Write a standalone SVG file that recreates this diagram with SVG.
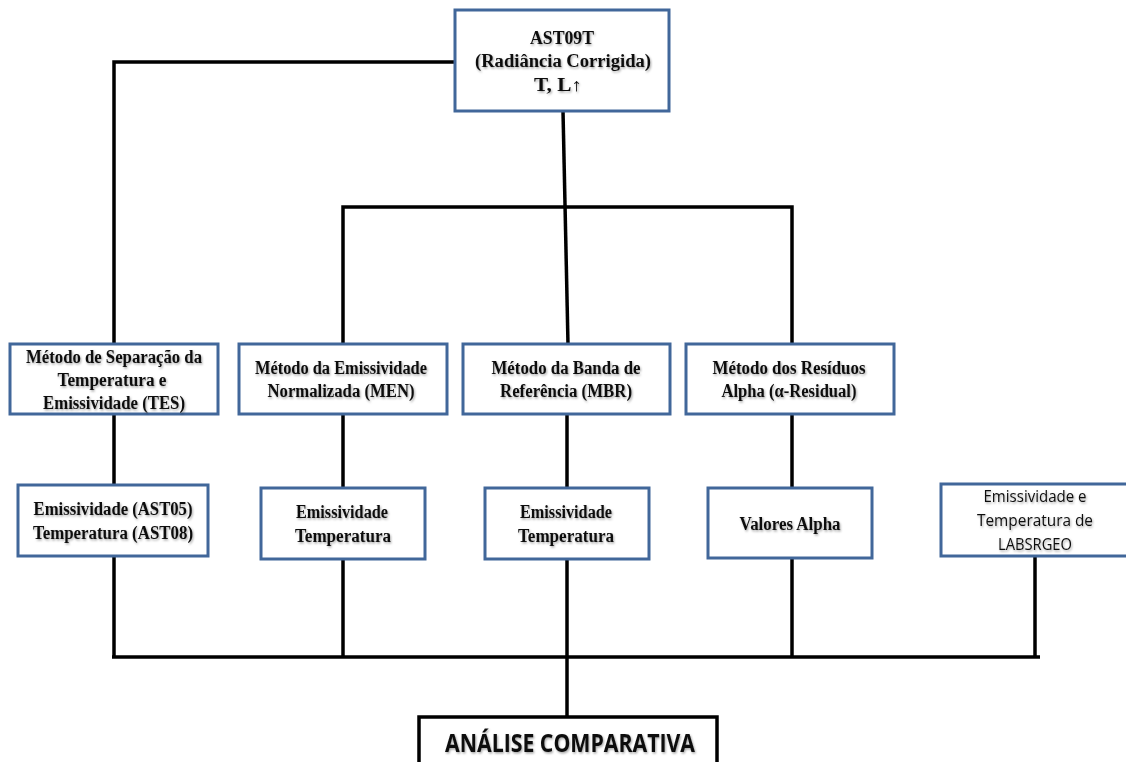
<svg xmlns="http://www.w3.org/2000/svg" width="1126" height="762" viewBox="0 0 1126 762">
<defs>
<filter id="sh" x="-5%" y="-20%" width="110%" height="140%">
<feDropShadow dx="1" dy="1.5" stdDeviation="1" flood-color="#000" flood-opacity="0.35"/>
</filter>
</defs>
<style>
.box{fill:#fff;stroke:#41679a;stroke-width:3}
.bbox{fill:#fff;stroke:#000;stroke-width:3.5}
.ln{stroke:#000;stroke-width:3.5;fill:none}
.t{font-family:"Liberation Serif","Times New Roman",serif;font-weight:bold;font-size:18px;fill:#111;text-anchor:middle;filter:url(#sh)}
.s{font-family:"Open Sans","Liberation Sans",sans-serif;font-size:17px;fill:#111;text-anchor:middle;filter:url(#sh)}
.b{font-family:"Open Sans","Liberation Sans",sans-serif;font-weight:bold;font-size:25px;fill:#111;text-anchor:middle;filter:url(#sh)}
</style>
<g id="connectors">
<polyline class="ln" points="455,62 114,62 114,344"/>
<line class="ln" x1="563" y1="111" x2="568" y2="344"/>
<polyline class="ln" points="343,344 343,207 792,207 792,344"/>
<line class="ln" x1="114" y1="414" x2="114" y2="485"/>
<line class="ln" x1="343" y1="414" x2="343" y2="488"/>
<line class="ln" x1="567" y1="414" x2="567" y2="488"/>
<line class="ln" x1="792" y1="414" x2="792" y2="488"/>
<line class="ln" x1="114" y1="556" x2="114" y2="657"/>
<line class="ln" x1="343" y1="559" x2="343" y2="657"/>
<line class="ln" x1="567" y1="559" x2="567" y2="657"/>
<line class="ln" x1="792" y1="558" x2="792" y2="657"/>
<line class="ln" x1="1035" y1="556" x2="1035" y2="657"/>
<line class="ln" x1="112" y1="657" x2="1040" y2="657"/>
<line class="ln" x1="567" y1="657" x2="567" y2="717"/>
</g>
<g id="top">
<rect class="box" x="455" y="10" width="214" height="101"/>
<text class="t" x="562" y="44" textLength="64" lengthAdjust="spacingAndGlyphs">AST09T</text>
<text class="t" x="563" y="67" textLength="176" lengthAdjust="spacingAndGlyphs">(Radiância Corrigida)</text>
<text class="t" x="558" y="91" textLength="48" lengthAdjust="spacingAndGlyphs">T, L↑</text>
</g>
<g id="tes">
<rect class="box" x="10" y="344" width="208" height="70"/>
<text class="t" x="114" y="363" textLength="176" lengthAdjust="spacingAndGlyphs">Método de Separação da</text>
<text class="t" x="112" y="386" textLength="109" lengthAdjust="spacingAndGlyphs">Temperatura  e</text>
<text class="t" x="114" y="409" textLength="142" lengthAdjust="spacingAndGlyphs">Emissividade  (TES)</text>
</g>
<g id="men">
<rect class="box" x="239" y="344" width="208" height="70"/>
<text class="t" x="341" y="374" textLength="172" lengthAdjust="spacingAndGlyphs">Método da Emissividade</text>
<text class="t" x="341" y="397" textLength="147" lengthAdjust="spacingAndGlyphs">Normalizada  (MEN)</text>
</g>
<g id="mbr">
<rect class="box" x="463" y="344" width="207" height="70"/>
<text class="t" x="566" y="374" textLength="149" lengthAdjust="spacingAndGlyphs">Método da Banda de</text>
<text class="t" x="566" y="397" textLength="132" lengthAdjust="spacingAndGlyphs">Referência (MBR)</text>
</g>
<g id="alpha">
<rect class="box" x="686" y="344" width="208" height="70"/>
<text class="t" x="789" y="374" textLength="153" lengthAdjust="spacingAndGlyphs">Método dos Resíduos</text>
<text class="t" x="789" y="397" textLength="135" lengthAdjust="spacingAndGlyphs">Alpha  (α-Residual)</text>
</g>
<g id="tes-out">
<rect class="box" x="18" y="485" width="190" height="71"/>
<text class="t" x="113" y="515" textLength="159" lengthAdjust="spacingAndGlyphs">Emissividade  (AST05)</text>
<text class="t" x="113" y="539" textLength="160" lengthAdjust="spacingAndGlyphs">Temperatura (AST08)</text>
</g>
<g id="men-out">
<rect class="box" x="261" y="488" width="164" height="71"/>
<text class="t" x="342" y="518" textLength="92" lengthAdjust="spacingAndGlyphs">Emissividade</text>
<text class="t" x="343" y="542" textLength="96" lengthAdjust="spacingAndGlyphs">Temperatura</text>
</g>
<g id="mbr-out">
<rect class="box" x="485" y="488" width="164" height="71"/>
<text class="t" x="566" y="518" textLength="92" lengthAdjust="spacingAndGlyphs">Emissividade</text>
<text class="t" x="566" y="542" textLength="96" lengthAdjust="spacingAndGlyphs">Temperatura</text>
</g>
<g id="alpha-out">
<rect class="box" x="708" y="488" width="164" height="70"/>
<text class="t" x="790" y="530" textLength="101" lengthAdjust="spacingAndGlyphs">Valores Alpha</text>
</g>
<g id="labsrgeo">
<rect class="box" x="941" y="484" width="190" height="72"/>
<text class="s" x="1035" y="502" textLength="103" lengthAdjust="spacingAndGlyphs">Emissividade e</text>
<text class="s" x="1035" y="526" textLength="116" lengthAdjust="spacingAndGlyphs">Temperatura  de</text>
<text class="s" x="1035" y="550" textLength="74" lengthAdjust="spacingAndGlyphs">LABSRGEO</text>
</g>
<g id="analise">
<rect class="bbox" x="419" y="717" width="298" height="60"/>
<text class="b" x="570" y="752" textLength="250" lengthAdjust="spacingAndGlyphs">ANÁLISE COMPARATIVA</text>
</g>
</svg>
